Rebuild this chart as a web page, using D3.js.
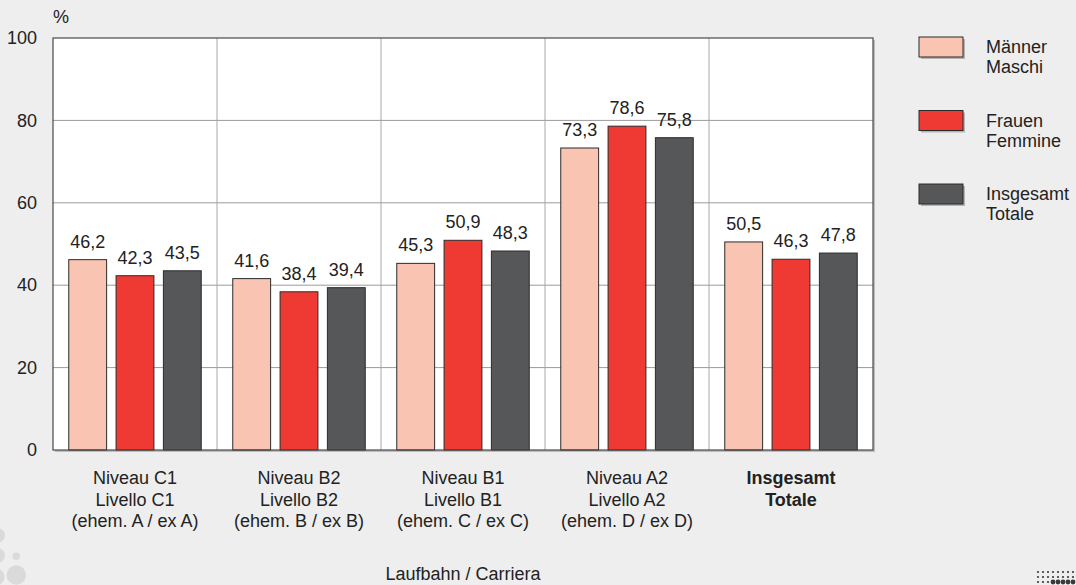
<!DOCTYPE html>
<html>
<head>
<meta charset="utf-8">
<script src="https://cdn.jsdelivr.net/npm/d3@7"></script>
<style>
  html, body { margin: 0; padding: 0; background: #eeeeee; }
  svg { display: block; font-family: "Liberation Sans", Arial, sans-serif; }
</style>
</head>
<body>
<svg id="chart" width="1076" height="585"></svg>
<script>
// Categories (each label split over several lines)
const categories = ["C1", "B2", "B1", "A2", "TOT"];
const categoryLines = [
  ["Niveau C1", "Livello C1", "(ehem. A / ex A)"],
  ["Niveau B2", "Livello B2", "(ehem. B / ex B)"],
  ["Niveau B1", "Livello B1", "(ehem. C / ex C)"],
  ["Niveau A2", "Livello A2", "(ehem. D / ex D)"],
  ["Insgesamt", "Totale"]
];
const boldCategory = ["TOT"];

// Series
const seriesKeys = ["m", "f", "t"];
const seriesLabels = [["Männer", "Maschi"], ["Frauen", "Femmine"], ["Insgesamt", "Totale"]];
const seriesColors = ["#f9c4b1", "#ee3a32", "#565759"];

const maenner = [46.2, 41.6, 45.3, 73.3, 50.5];
const frauen = [42.3, 38.4, 50.9, 78.6, 46.3];
const insgesamt = [43.5, 39.4, 48.3, 75.8, 47.8];
const seriesValues = [maenner, frauen, insgesamt];

const yTicks = [0, 20, 40, 60, 80, 100];
const yUnit = "%";
const xTitle = "Laufbahn / Carriera";

const svg = d3.select("#chart");
const plot = { left: 53, right: 873, top: 38, bottom: 450 };
const textColor = "#222";

// Decorative circles, lower left
const deco = svg.append("g").attr("fill", "#dadada");
[[-2.5, 535.5, 7.5], [-2.5, 555.5, 7.5], [16.3, 556.3, 3.7], [-4, 577, 8.5], [16.3, 575, 9.7]]
  .forEach(c => deco.append("circle").attr("cx", c[0]).attr("cy", c[1]).attr("r", c[2]));

// Decorative dot pattern, lower right
const dots = svg.append("g").attr("fill", "#3a3a3a");
for (let row = 0; row < 3; row++) {
  for (let x = 1038; x <= 1076; x += 5) {
    const big = row === 2 && x >= 1052;
    dots.append("circle").attr("cx", x).attr("cy", 572 + row * 5).attr("r", big ? 2.4 : 1.1);
  }
}

const x0 = d3.scaleBand().domain(categories).range([plot.left, plot.right]).padding(0);
const x1 = d3.scaleBand().domain(seriesKeys).range([0, x0.bandwidth()])
  .paddingInner(0.2).paddingOuter(0.333);
const y = d3.scaleLinear().domain([0, 100]).range([plot.bottom, plot.top]);

// Plot background with soft shadow
svg.append("rect")
  .attr("x", plot.left + 2).attr("y", plot.top + 2)
  .attr("width", plot.right - plot.left).attr("height", plot.bottom - plot.top)
  .attr("fill", "#bdbdbd");
svg.append("rect")
  .attr("x", plot.left).attr("y", plot.top)
  .attr("width", plot.right - plot.left).attr("height", plot.bottom - plot.top)
  .attr("fill", "#ffffff");

// Horizontal gridlines
svg.append("g").selectAll("line").data(yTicks.filter(t => t > 0 && t < 100)).join("line")
  .attr("x1", plot.left).attr("x2", plot.right)
  .attr("y1", d => y(d)).attr("y2", d => y(d))
  .attr("stroke", "#9a9a9a").attr("stroke-width", 1);

// Vertical category separators
svg.append("g").selectAll("line").data(categories.slice(1)).join("line")
  .attr("x1", d => x0(d)).attr("x2", d => x0(d))
  .attr("y1", plot.top).attr("y2", plot.bottom)
  .attr("stroke", "#a8a8a8").attr("stroke-width", 1);

// Bars with value labels
const groups = svg.append("g").selectAll("g").data(categories).join("g")
  .attr("transform", d => `translate(${x0(d)},0)`);

groups.each(function (cat, ci) {
  const g = d3.select(this);
  seriesKeys.forEach((key, si) => {
    const v = seriesValues[si][ci];
    g.append("rect")
      .attr("x", x1(key)).attr("y", y(v))
      .attr("width", x1.bandwidth()).attr("height", y(0) - y(v))
      .attr("fill", seriesColors[si])
      .attr("stroke", "#2b2b2b").attr("stroke-width", 1);
    g.append("text")
      .attr("x", x1(key) + x1.bandwidth() / 2).attr("y", y(v) - 12)
      .attr("text-anchor", "middle").attr("font-size", 18).attr("fill", textColor)
      .text(d3.format(".1f")(v).replace(".", ","));
  });
});

// Plot frame
svg.append("rect")
  .attr("x", plot.left).attr("y", plot.top)
  .attr("width", plot.right - plot.left).attr("height", plot.bottom - plot.top)
  .attr("fill", "none").attr("stroke", "#4a4a4a").attr("stroke-width", 1.2);

// Y axis labels
const yAxis = svg.append("g").attr("transform", `translate(${plot.left},0)`)
  .call(d3.axisLeft(y).tickValues(yTicks).tickSize(0).tickPadding(16));
yAxis.select(".domain").remove();
yAxis.selectAll("text").attr("font-size", 18).attr("fill", textColor)
  .attr("font-family", "Liberation Sans, Arial, sans-serif");

svg.append("text").attr("x", plot.left).attr("y", 23)
  .attr("font-size", 18).attr("fill", textColor).text(yUnit);

// Category labels
svg.append("g").selectAll("text").data(categories).join("text")
  .attr("x", d => x0(d) + x0.bandwidth() / 2)
  .attr("y", 484)
  .attr("text-anchor", "middle").attr("font-size", 18).attr("fill", textColor)
  .attr("font-weight", d => boldCategory.includes(d) ? "bold" : "normal")
  .each(function (d, i) {
    const t = d3.select(this);
    categoryLines[i].forEach((line, li) => {
      t.append("tspan").attr("x", x0(d) + x0.bandwidth() / 2)
        .attr("dy", li === 0 ? 0 : 21.5).text(line);
    });
  });

// Axis title
svg.append("text").attr("x", 463).attr("y", 580)
  .attr("text-anchor", "middle").attr("font-size", 18).attr("fill", textColor)
  .text(xTitle);

// Legend
const legend = svg.append("g");
seriesKeys.forEach((key, i) => {
  const top = 37 + i * 73.5;
  legend.append("rect").attr("x", 921).attr("y", top + 2).attr("width", 44).attr("height", 20)
    .attr("fill", "#b5b5b5");
  legend.append("rect").attr("x", 919).attr("y", top).attr("width", 44).attr("height", 20)
    .attr("fill", seriesColors[i]).attr("stroke", "#2b2b2b").attr("stroke-width", 1);
  const t = legend.append("text").attr("x", 986).attr("y", top + 16)
    .attr("font-size", 18).attr("fill", textColor);
  seriesLabels[i].forEach((line, li) => {
    t.append("tspan").attr("x", 986).attr("dy", li === 0 ? 0 : 20).text(line);
  });
});
</script>
</body>
</html>
